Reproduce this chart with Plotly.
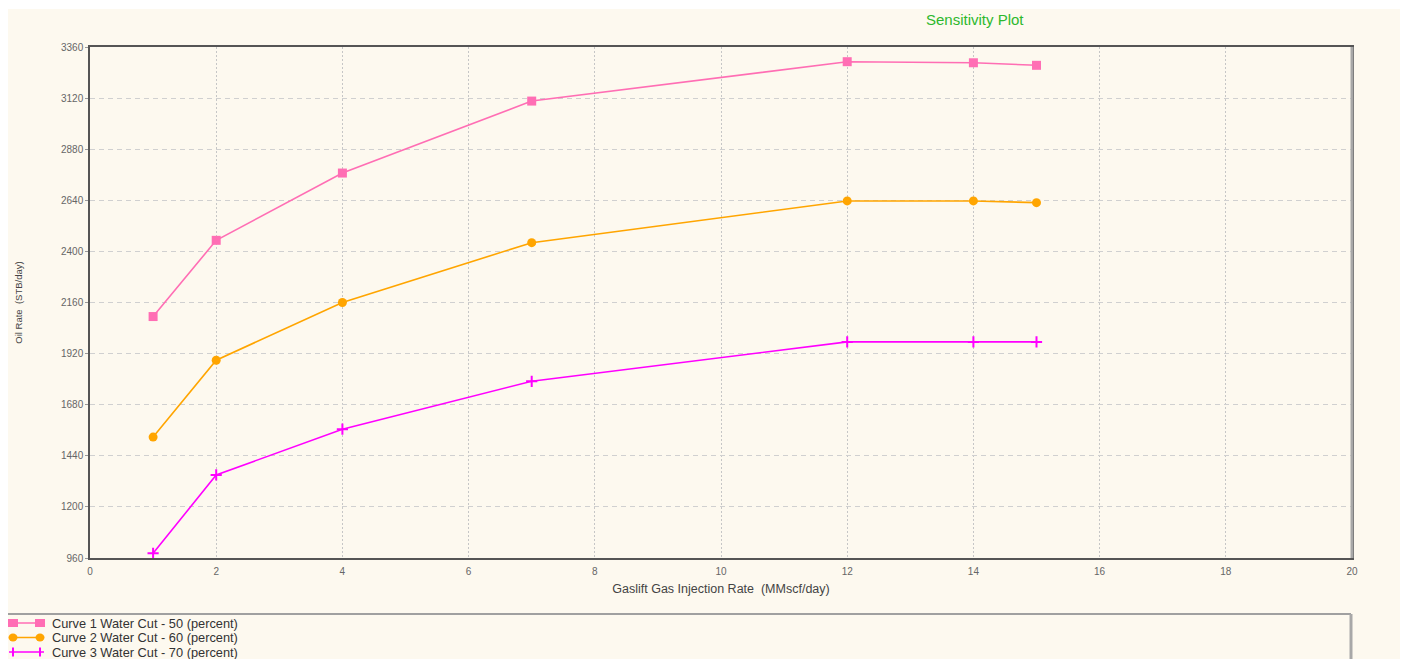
import plotly.graph_objects as go

# Gas-lift sensitivity: oil rate vs. injection rate for three water cuts
gas_rate = [1, 2, 4, 7, 12, 14, 15]
oil_wc50 = [2094, 2452, 2768, 3106, 3291, 3286, 3274]
oil_wc60 = [1528, 1889, 2160, 2441, 2637, 2637, 2629]
oil_wc70 = [982, 1350, 1565, 1790, 1975, 1975, 1975]

curve_names = [
    "Curve 1 Water Cut - 50 (percent)",
    "Curve 2 Water Cut - 60 (percent)",
    "Curve 3 Water Cut - 70 (percent)",
]
curve_colors = ["#FF6EB4", "#FFA500", "#FF00FF"]
curve_symbols = ["square", "circle", "cross-thin"]

x_ticks = list(range(0, 21, 2))
y_ticks = list(range(960, 3361, 240))

W, H = 1404, 659
L, R, T, B = 90, 1352, 47, 558  # plot area in pixels
PW, PH = R - L, B - T


def px(x):
    return (x - L) / PW


def py(y):
    return (B - y) / PH


fig = go.Figure()
series = [oil_wc50, oil_wc60, oil_wc70]
for name, vals, col, sym in zip(curve_names, series, curve_colors, curve_symbols):
    if sym == "cross-thin":
        marker = dict(symbol=sym, color=col, size=8, line=dict(color=col, width=2))
    else:
        marker = dict(symbol=sym, color=col, size=9)
    fig.add_trace(go.Scatter(
        x=gas_rate, y=vals, name=name, mode="lines+markers",
        line=dict(color=col, width=1.6), marker=marker, showlegend=False,
    ))

shapes = []
# cream panel behind everything
shapes.append(dict(type="rect", xref="paper", yref="paper", layer="below",
                   x0=px(8), x1=px(1400), y0=py(659), y1=py(9),
                   fillcolor="#FDF9EF", line=dict(width=0)))
# shaded right edge of the plot frame
shapes.append(dict(type="line", xref="paper", yref="paper",
                   x0=1, x1=1, y0=0, y1=1, line=dict(color="#A8A8A8", width=3)))
# legend box outline
shapes.append(dict(type="line", xref="paper", yref="paper",
                   x0=px(8), x1=px(1351), y0=py(614), y1=py(614),
                   line=dict(color="#A0A0A0", width=2)))
shapes.append(dict(type="line", xref="paper", yref="paper",
                   x0=px(1351), x1=px(1351), y0=py(614), y1=py(659),
                   line=dict(color="#A8A8A8", width=3)))

annotations = []
legend_rows = [623, 637.5, 652]
for name, col, sym, yy in zip(curve_names, curve_colors, curve_symbols, legend_rows):
    shapes.append(dict(type="line", xref="paper", yref="paper",
                       x0=px(9), x1=px(44), y0=py(yy), y1=py(yy),
                       line=dict(color=col, width=1.6)))
    for cx in (13, 40):
        if sym == "square":
            shapes.append(dict(type="rect", xref="paper", yref="paper",
                               x0=px(cx - 5), x1=px(cx + 5), y0=py(yy + 4), y1=py(yy - 4),
                               fillcolor=col, line=dict(width=0)))
        elif sym == "circle":
            shapes.append(dict(type="circle", xref="paper", yref="paper",
                               x0=px(cx - 4.5), x1=px(cx + 4.5), y0=py(yy + 4), y1=py(yy - 4),
                               fillcolor=col, line=dict(width=0)))
        else:
            shapes.append(dict(type="line", xref="paper", yref="paper",
                               x0=px(cx), x1=px(cx), y0=py(yy + 4.5), y1=py(yy - 4.5),
                               line=dict(color=col, width=2)))
    annotations.append(dict(text=name, xref="paper", yref="paper", x=px(50), y=py(yy),
                            xanchor="left", yanchor="middle", showarrow=False,
                            font=dict(family="Liberation Sans, Arial", size=12.8, color="#333333")))

annotations.append(dict(text="Sensitivity Plot", xref="paper", yref="paper",
                        x=px(975), y=py(20), xanchor="center", yanchor="middle",
                        showarrow=False,
                        font=dict(family="Liberation Sans, Arial", size=15, color="#2DB82D")))

fig.update_layout(
    width=W, height=H,
    margin=dict(l=L, r=W - R, t=T, b=H - B),
    paper_bgcolor="#FFFFFF",
    plot_bgcolor="rgba(0,0,0,0)",
    shapes=shapes,
    annotations=annotations,
    font=dict(family="Liberation Sans, Arial", color="#555555"),
    xaxis=dict(
        range=[0, 20], tickvals=x_ticks, ticktext=[str(v) for v in x_ticks],
        showgrid=True, gridcolor="#C6C6C6", griddash="1.5px,2.5px", gridwidth=1.3,
        showline=True, linecolor="#555555", linewidth=1.5, mirror=True,
        ticks="", tickfont=dict(size=10, color="#666666"), ticklabelstandoff=3,
        zeroline=False,
        title=dict(text="Gaslift Gas Injection Rate  (MMscf/day)",
                   font=dict(size=12.5, color="#444444"), standoff=8),
    ),
    yaxis=dict(
        range=[960, 3360], tickvals=y_ticks, ticktext=[str(v) for v in y_ticks],
        showgrid=True, gridcolor="#D0D0D0", griddash="5px,4px", gridwidth=1,
        showline=True, linecolor="#555555", linewidth=1.5, mirror=True,
        ticks="outside", ticklen=3, tickcolor="#999999",
        tickfont=dict(size=10, color="#666666"), ticklabelstandoff=0,
        zeroline=False,
        title=dict(text="Oil Rate  (STB/day)",
                   font=dict(size=9.5, color="#444444"), standoff=37),
    ),
)

fig.write_html("out.html")
